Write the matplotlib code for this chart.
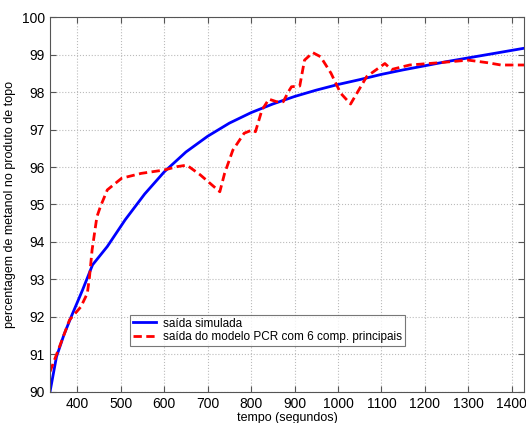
import matplotlib
matplotlib.use('Agg')
import matplotlib.pyplot as plt

# simulated output (blue)
t_sim = [337, 352, 369, 386, 412, 435, 469, 510, 555, 600, 650, 700, 750, 800,
         850, 900, 950, 1000, 1050, 1100, 1150, 1200, 1250, 1300, 1350, 1400, 1430]
y_sim = [90.0, 90.94, 91.52, 92.01, 92.72, 93.39, 93.88, 94.59, 95.28, 95.87, 96.4,
         96.82, 97.17, 97.45, 97.68, 97.88, 98.05, 98.2, 98.33, 98.47, 98.59, 98.7,
         98.81, 98.91, 99.01, 99.11, 99.17]

# PCR model output, 6 principal components (red dashed)
t_pcr = [337, 359, 382, 408, 423, 428, 434, 445, 453, 469, 502, 547, 600, 630, 652,
         683, 728, 739, 758, 784, 803, 810, 825, 841, 859, 874, 886, 893, 912, 923,
         942, 960, 984, 1006, 1029, 1066, 1108, 1123, 1165, 1232, 1300, 1345, 1375,
         1405, 1430]
y_pcr = [90.54, 91.21, 91.92, 92.27, 92.63, 93.07, 93.79, 94.67, 94.94, 95.39, 95.7,
         95.83, 95.92, 96.01, 96.05, 95.79, 95.34, 95.83, 96.45, 96.9, 96.99, 96.94,
         97.52, 97.81, 97.74, 97.74, 98.01, 98.14, 98.16, 98.85, 99.05, 98.94, 98.5,
         97.97, 97.68, 98.41, 98.76, 98.6, 98.72, 98.78, 98.85, 98.78, 98.72, 98.72,
         98.72]

plt.rcParams['font.family'] = ['Liberation Sans', 'DejaVu Sans']

fig = plt.figure(figsize=(5.26, 4.23), dpi=100)
ax = fig.add_axes([0.095, 0.0733, 0.901, 0.8865])

ax.plot(t_sim, y_sim, color='#0000ff', lw=2.0, label='saída simulada')
ax.plot(t_pcr, y_pcr, color='#ff0000', lw=2.0, ls=(0, (3, 1.6)),
        label='saída do modelo PCR com 6 comp. principais')

ax.set_xlim(337, 1428)
ax.set_ylim(90, 100)
ax.set_xticks(range(400, 1401, 100))
ax.set_yticks(range(90, 101, 1))
ax.tick_params(direction='in', top=True, right=True, labelsize=10, length=4,
               color='#555555')
ax.grid(True, ls=':', color='#bbbbbb', lw=0.8)
for s in ax.spines.values():
    s.set_color('#555555')
    s.set_linewidth(0.8)

ax.set_xlabel('tempo (segundos)', fontsize=9, labelpad=1)
ax.set_ylabel('percentagem de metanol no produto de topo', fontsize=9, labelpad=4)

leg = ax.legend(loc='lower left', bbox_to_anchor=(0.156, 0.107), fontsize=8.5,
                frameon=True, fancybox=False, edgecolor='#555555',
                handlelength=2.0, handletextpad=0.6,
                borderpad=0.25, labelspacing=0.12)
leg.get_frame().set_linewidth(0.8)

fig.savefig('out.png', dpi=100, facecolor='white')
